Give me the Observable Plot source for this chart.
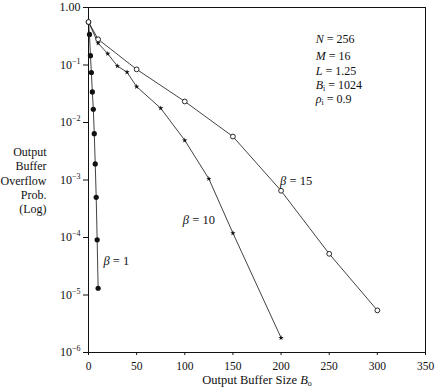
<!DOCTYPE html>
<html>
<head>
<meta charset="utf-8">
<script src="https://cdn.jsdelivr.net/npm/d3@7"></script>
<script src="https://cdn.jsdelivr.net/npm/@observablehq/plot@0.6"></script>
<style>
  html, body { margin: 0; padding: 0; background: #fff; }
  #chart svg { font-family: "Liberation Serif", "DejaVu Serif", serif; }
</style>
</head>
<body>
<div id="chart"></div>
<script>
// ---- data ----
const beta1X  = [0, 1, 2, 3, 4, 5, 6, 7, 8, 9, 10];
const beta1P  = [0.56, 0.34, 0.145, 0.074, 0.034, 0.017, 0.0064, 0.0019, 5.0e-4, 9.1e-5, 1.31e-5];
const beta10X = [0, 10, 20, 30, 40, 50, 75, 100, 125, 150, 200];
const beta10P = [0.56, 0.24, 0.157, 0.096, 0.075, 0.042, 0.0177, 0.0049, 0.00105, 1.19e-4, 1.8e-6];
const beta15X = [0, 10, 50, 100, 150, 200, 250, 300];
const beta15P = [0.56, 0.28, 0.084, 0.0232, 0.0057, 6.5e-4, 5.2e-5, 5.4e-6];

const xTicks = [0, 50, 100, 150, 200, 250, 300, 350];
const yTicks = [1e-6, 1e-5, 1e-4, 1e-3, 1e-2, 1e-1, 1];

const curveLabels = ["<i>β</i> = 1", "<i>β</i> = 10", "<i>β</i> = 15"];
const curveLabelX = [15.5, 98, 199];
const curveLabelP = [3.98e-5, 1.98e-4, 9.8e-4];

const paramLabels = ["<i>N</i> = 256", "<i>M</i> = 16", "<i>L</i> = 1.25", "<i>B</i><sub>i</sub> = 1024", "<i>ρ</i><sub>i</sub> = 0.9"];
const paramX = 236;
const paramP = [0.277, 0.1406, 0.0771, 0.044, 0.0251];

const yTitle = "Output\nBuffer\nOverflow\nProb.\n(Log)";
const xTitle = "Output Buffer Size <i>B</i><sub>o</sub>";

// ---- tables ----
const toRows = (xs, ps) => xs.map((x, i) => ({x, p: ps[i]}));
const s1 = toRows(beta1X, beta1P);
const s10 = toRows(beta10X, beta10P);
const s15 = toRows(beta15X, beta15P);
const strip = s => s.replace(/<[^>]+>/g, "");
const curveRows = curveLabels.map((t, i) => ({t, x: curveLabelX[i], p: curveLabelP[i]}));
const paramRows = paramLabels.map((t, i) => ({t, x: paramX, p: paramP[i]}));

const ink = "#111";

const chart = Plot.plot({
  width: 435,
  height: 390,
  marginLeft: 88,
  marginRight: 10,
  marginTop: 7,
  marginBottom: 38,
  style: {fontFamily: "Liberation Serif, DejaVu Serif, serif", fontSize: "11px", background: "#fff", color: ink, overflow: "visible"},
  x: {domain: [0, 350]},
  y: {type: "log", domain: [1e-6, 1]},
  marks: [
    Plot.frame({stroke: ink, strokeWidth: 1}),
    Plot.axisX({ticks: xTicks, tickSize: 3, tickPadding: 6, label: null, fontSize: 11.5, stroke: ink}),
    Plot.axisY({ticks: yTicks, tickSize: 5, tickPadding: 3, label: null, fontSize: 12, stroke: ink,
      className: "yax",
      tickFormat: d => d === 1 ? "1.00" : "10^" + String(Math.round(Math.log10(d))).replace("-", "−")}),
    Plot.line(s1, {x: "x", y: "p", stroke: ink, strokeWidth: 0.8}),
    Plot.line(s10, {x: "x", y: "p", stroke: ink, strokeWidth: 0.8}),
    Plot.line(s15, {x: "x", y: "p", stroke: ink, strokeWidth: 0.8}),
    Plot.dot(s1, {x: "x", y: "p", r: 2.6, fill: ink, stroke: "none"}),
    Plot.dot(s10, {x: "x", y: "p", r: 1.7, symbol: "star", fill: ink, stroke: "none"}),
    Plot.dot(s15, {x: "x", y: "p", r: 2.4, fill: "#fff", stroke: ink, strokeWidth: 0.9}),
    Plot.text(curveRows, {x: "x", y: "p", text: d => strip(d.t), textAnchor: "start", fontSize: 12.5, fill: ink, className: "rich-curve"}),
    Plot.text(paramRows, {x: "x", y: "p", text: d => strip(d.t), textAnchor: "start", fontSize: 12, fill: ink, className: "rich-param"}),
    Plot.text([yTitle], {frameAnchor: "left", dx: -42, textAnchor: "end", lineHeight: 1.2, fontSize: 12, fill: ink}),
    Plot.text([strip(xTitle)], {frameAnchor: "bottom", dy: 31, fontSize: 12.5, fill: ink, className: "rich-xtitle"})
  ]
});
document.getElementById("chart").appendChild(chart);

// ---- rich text (italics, sub/superscripts) ----
function applyMarkup(el, markup) {
  const t = d3.select(el);
  t.text(null);
  const re = /<(i|sub)>(.*?)<\/\1>|([^<]+)/g;
  let m, shifted = 0;
  while ((m = re.exec(markup))) {
    const ts = t.append("tspan");
    if (shifted) { ts.attr("dy", -shifted + "px"); shifted = 0; }
    if (m[1] === "i") ts.attr("font-style", "italic").text(m[2]);
    else if (m[1] === "sub") { ts.attr("font-size", "8px").attr("dy", "2px").text(m[2]); shifted = 2; }
    else ts.text(m[3]);
  }
}
d3.select(chart).selectAll("g.rich-curve text").each(function(_, i) { applyMarkup(this, curveLabels[i]); });
d3.select(chart).selectAll("g.rich-param text").each(function(_, i) { applyMarkup(this, paramLabels[i]); });
d3.select(chart).selectAll("g.rich-xtitle text").each(function() { applyMarkup(this, xTitle); });
d3.select(chart).selectAll("g.yax text").each(function() {
  const s = d3.select(this).text();
  if (s.includes("^")) {
    const [base, exp] = s.split("^");
    const t = d3.select(this);
    t.text(null);
    t.append("tspan").text(base);
    t.append("tspan").attr("font-size", "8px").attr("dy", "-5px").text(exp);
  }
});
</script>
</body>
</html>
